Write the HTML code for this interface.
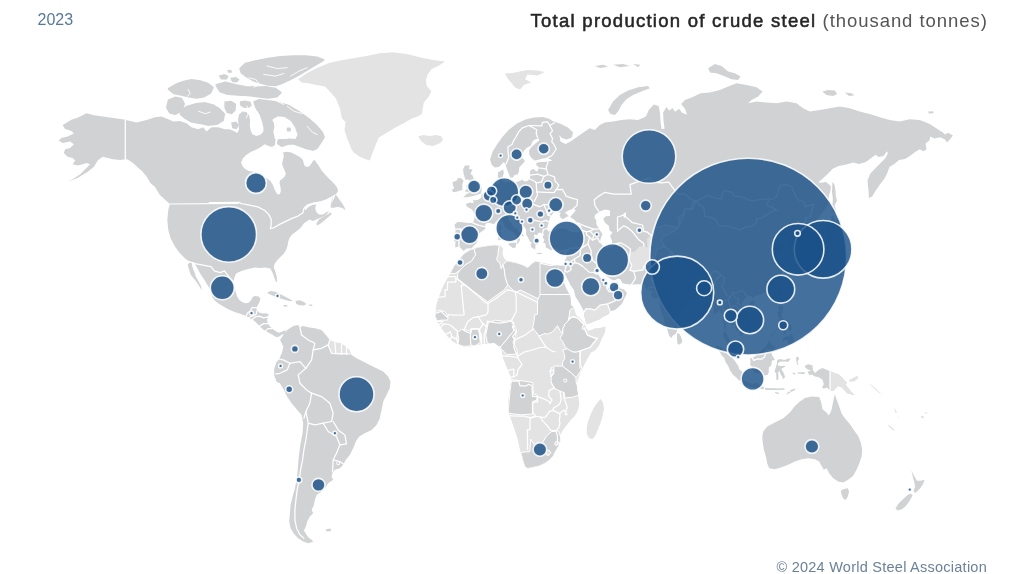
<!DOCTYPE html>
<html lang="en"><head><meta charset="utf-8"><title>Total production of crude steel</title>
<style>
html,body{margin:0;padding:0;background:#fff;}
body{width:1024px;height:574px;position:relative;overflow:hidden;font-family:"Liberation Sans",sans-serif;}
#year{position:absolute;left:37.5px;top:9.5px;font-size:16px;line-height:20px;color:#58799a;}
#title{position:absolute;right:36.2px;top:9.3px;font-size:18.5px;line-height:24px;color:#555;white-space:nowrap;letter-spacing:0.95px;}
#title b{color:#262626;font-weight:normal;-webkit-text-stroke:0.55px #262626;letter-spacing:1.26px;}
#credit{position:absolute;right:37px;top:557.5px;font-size:14.5px;line-height:18px;color:#6b8299;white-space:nowrap;letter-spacing:0.25px;}
svg{position:absolute;left:0;top:0;}
#wrap{position:absolute;left:0;top:0;width:1024px;height:574px;filter:blur(0.55px);}
</style></head><body><div id="wrap">
<svg width="1024" height="574" viewBox="0 0 1024 574">
<g id="land" stroke-linejoin="round">
<polygon points="125.3,119.8 115.3,118.3 102.7,116.5 94,115.3 86.4,113.3 82.7,115.3 77.6,117.8 71.4,119.8 66.4,122.8 62.6,125.3 65.1,129.1 71.4,130.9 73.9,133.4 67.6,136.6 61.3,137.9 58.8,140.4 62.6,142.9 70.1,141.6 73.9,144.2 70.1,147.9 65.1,149.2 63.8,152.9 67.6,156.7 72.6,158 75.1,160.5 72.6,164.2 77.6,165.5 82.7,164.2 86.4,163 90.2,164.2 85.2,169.3 80.2,174.3 72.6,179.3 67.6,181.8 77.6,178 87.7,171.8 94,166.7 97.7,160.5 102.7,156.7 107.8,158 112.8,159.2 120.3,160 125.3,159.2 131.6,163 136.6,166.7 141.6,170.5 146.7,176.8 150.4,183.1 154.9,186.7 159.9,195 165.9,200.6 169.9,204 168.3,210 167.3,220 168.3,230 170.6,238.3 174.9,246.6 179.9,253.3 185.9,259.3 189.9,261.9 187.6,265.1 189.2,270.1 190.9,275.1 194.3,279.3 197.6,283.5 200.1,287.6 201.8,290.2 201,286 198.4,281 195.9,276.8 194.3,271.8 192.6,267.6 191.8,263.4 193.4,262 195.1,264.2 197.6,268.4 200.1,273.4 203.5,278.4 206,282.6 208.1,286 210.2,289.3 211,293.5 212.7,297.7 215.2,301 218.5,303.5 222.7,306.1 226.9,308.6 231.1,310.6 235.3,312.2 239.4,313.6 243.6,314.9 246.1,316.1 248.6,317.8 252,319.4 254.5,321.1 257,323.6 259.5,326.1 262,328.6 265.4,331.1 268.7,332.8 272.1,334.5 274.6,336.2 277.1,337.3 279.6,336.2 282.1,334.5 285.5,333.7 285.5,330 281.3,332 278.8,332.8 275.4,331.1 272.1,328.6 269.6,326.1 267.9,323.6 267,320.3 267.9,316.9 268.7,314.4 266.2,313.2 262.9,313.6 259.5,312.7 257,310.2 256.2,307.7 257.8,305.2 259.5,301.9 260.4,298.5 258.7,296.5 255.3,296 252.8,296.8 251.1,300.2 248.6,302.7 245.3,303.2 241.9,301.9 238.9,299.4 236.9,296 235.6,291.8 234.4,286.8 233.6,281.8 234.4,277.6 236.1,273.4 240.3,271.4 245.3,269.7 250.3,268.4 255.3,267.6 260.4,268.1 265.4,267.6 270.4,268.4 272.9,273.4 274.6,278.4 276.2,282.6 277.1,281 276.7,276.8 275.4,271.8 273.7,267.6 274.6,263.8 277.1,260.4 280.4,257.1 283.8,253.7 286.3,249.5 287.6,245.4 288.3,241.2 289.6,237.8 292.1,234.5 295.5,232 298.8,229.5 301.3,227 303.8,223.6 307.2,221.1 309.7,219.4 313,221.1 316.4,219.4 320.6,217.8 324.8,216.1 327.3,213.6 331.5,208.6 333.1,196.1 336.8,193.2 338.1,191.1 337.3,187.7 334.8,184.4 331.5,181 328.1,177.7 324.8,174.3 321.4,170.2 318.9,166 316.4,162.6 314.7,160.1 313,161 311.4,163.5 309.7,166 307.2,167.1 304.7,166 303.8,163.5 303,160.1 300.5,157.6 296.3,155.1 291.3,152.6 286.3,151.8 282.9,152.6 271.2,146.7 271.2,146.7 273.8,140.9 274.3,136 273.3,132.1 274.3,127.2 273.8,122.3 270.9,119.4 266,119.4 263.6,122.3 264.1,127.2 263.1,132.1 260,135 256.1,136 252.1,134.1 250.7,130.2 249.7,125.3 250.2,120.4 249.2,115.5 246.3,112.1 242.4,111.6 239,114.5 238,119.4 238.5,124.3 239,129.2 237.5,133.1 234.6,131.6 229.7,129.2 224.8,129.2 218.2,127.2 211.5,127.2 206.5,131.6 203.2,127.2 198.2,129.2 191.5,127.2 186.5,123.3 179.9,120.9 173.2,121.6 168.2,119.3 161.5,116.6 154.9,117.3 146.6,119.9 136.6,122.6 125.9,119.9" fill="#d1d2d4"/>
<polygon points="335.6,194.4 334,198.6 331.8,203.6 330.8,207 333.1,208.1 336.5,207 339.8,207.3 343.2,208.6 345.2,210.6 344.5,207.3 342.3,203.6 339.8,200.3 337.8,196.9" fill="#d1d2d4"/>
<polygon points="316.4,223.7 318.9,219.5 323.1,217 327.3,214.5 331.1,212.3 331.5,214.5 328.1,217.3 324.4,220.4 320.6,223.4 317.2,225.4" fill="#d1d2d4"/>
<polygon points="267,292.7 270.4,291 275.4,291.8 280.4,294.3 285.5,296.8 290.5,299.4 293,301 289.6,301 285.5,299.9 280.4,298.5 275.4,296.5 270.4,294.8" fill="#d1d2d4"/>
<polygon points="295.5,301 299.7,300.2 303.9,301.9 306.4,303.9 303.9,305.5 299.7,305.2 296.3,303.9" fill="#d1d2d4"/>
<polygon points="283.4,304.9 287.1,304.9 287.5,306.6 283.8,306.6" fill="#d1d2d4"/>
<polygon points="309.2,304.5 312.2,304.5 312.2,305.9 309.2,305.9" fill="#d1d2d4"/>
<polygon points="283.3,335 287.2,330 293.2,326 298.2,325 299.9,327.3 303.2,326 308.2,327.3 314.9,328.3 321.5,330 325.9,335 329.9,340 334.9,342.6 339.9,343.3 344.9,345.9 349.2,349.9 351.5,354.9 356.5,358.3 363.2,361.6 369.8,364.9 376.5,368.3 383.2,371.6 388.1,376.6 390.5,381.6 389.8,388.2 386.5,394.9 383.2,401.6 381.5,409.9 379.8,418.2 376.5,424.9 371.5,429.9 364.8,433.2 359.2,436.5 355.8,441.5 353.2,448.2 349.9,454.8 345.9,459.8 343.2,464.8 339.9,468.2 334.9,469.8 332.5,472.5 331.5,476.5 333.2,479.8 328.2,483.2 325.9,487.2 321.5,491.6 316.6,494.9 314.9,499.9 313.9,504.9 311.6,509.9 313.2,513.2 309.9,516.5 307.2,521.5 305.9,526.5 303.9,530.5 305.9,533.8 308.2,537.2 311.6,539.8 313.2,541.8 308.2,543.2 303.2,541.5 298.2,538.2 293.9,533.8 290.6,528.2 289.2,521.5 289.9,513.2 290.6,504.9 292.6,496.6 294.9,488.2 296.6,479.9 297.6,471.6 298.2,463.3 299.2,453.3 300.6,443.3 302.6,433.3 303.2,423.3 301.6,415 296.6,409.3 291.6,403.3 287.2,396.7 283.9,390 279.9,383.3 276.7,381.9 274.2,375.2 274.2,368.5 276.7,361.8 278.4,360.2 281.7,353.5 283.4,346.8 280.1,340.1" fill="#d1d2d4"/>
<polygon points="325.9,529.2 330.5,528.5 331.2,530.9 326.5,531.5" fill="#d1d2d4"/>
<polygon points="463.5,250.9 461.8,248.9 459,246.6 455.2,247.4 455.5,241.7 453.8,240.6 455.5,234.1 455.5,229.2 454.5,224.6 457.5,222 463,222.3 468,223.1 473,223.1 474.5,218.9 474.8,214 472,209.4 466.8,206.4 465.8,204.1 470,202.6 473.5,203.3 473.2,199.5 474.5,200.3 478,199.9 481.2,197.6 481.5,194.6 485.5,193.1 487.5,190.4 489.2,187 491.2,185.1 495,184.7 498.8,184.3 499.5,182.1 499,179 497.8,176.8 498,172.2 501.2,170.7 503.8,168.8 498.8,166.9 495,167.6 491.8,165 490.2,160 490.2,158.9 492.7,151.4 497.3,143.9 502.8,136.4 509.1,129.6 516.6,123.8 525.4,119.5 534.2,117.5 542.9,117 549.2,118.8 553,121.3 560.5,123.8 568,127.6 573.1,132.6 571.8,137.6 566.8,139.6 561.8,138.1 559.3,135.1 560.5,141.4 565.5,143.9 570.5,141.4 584.8,131.6 589.8,128.3 594.8,129.9 599.8,124.9 604.8,122.6 613.1,121.6 621.5,119.9 629.8,119.3 638.1,119.9 645.9,116.6 648.9,109.8 653.8,104.5 658.6,105.9 660,112.7 660.6,122.5 661.6,129.3 664.5,128.4 663.5,120.5 663.1,112.7 666.4,106.9 669.4,110.8 672.3,107.9 675.2,111.8 679.1,108.8 682.1,112.7 687,114.7 685,108.8 681.1,103.9 685,100 692.8,97.1 700.6,93.2 709.9,92.6 719.9,90 728.2,86.6 736.5,83.3 746.5,85 756.5,87.3 762.5,91.6 758.2,96.6 751.5,99.9 748.2,103.3 756.5,101.6 766.5,102.6 776.5,103.3 786.5,101.6 796.5,103.3 803.1,108.3 809.8,111.6 819.8,109.9 829.8,108.3 839.8,106.6 849.8,108.3 859.7,111.6 869.7,113.9 879.7,117.3 889.7,119.9 899.7,121.6 909.7,119.3 919.7,119.9 929.7,123.9 936.3,128.2 941,131.6 942.1,131.7 945,134.6 948,132.7 952.9,135.6 949.9,139.5 947,142.5 945,139.5 940.2,137.2 934.3,138.6 930.4,136.6 929.4,140.5 925.5,143.4 926.5,149.3 923.6,151.2 919.6,149.3 914.8,152.2 909.9,156.1 905,159.1 899.1,160 894.3,163.9 889.4,166.9 887,173.7 884.5,178.6 880.6,183.5 876.1,189.9 872.2,196.6 868.9,198.1 868.5,190.3 867.5,180.5 870.2,173.7 875.7,167.9 880.6,163 885.5,158.1 887.8,153.2 887,151.2 883.5,156.1 878.6,157.1 875.7,154.8 871.8,157.5 865.9,162 859.1,163.9 853.2,162.6 846.4,164.5 838.6,165.9 832.7,168.8 827.9,173.7 823.9,177.6 820,180.9 818.1,182.5 821.2,182.8 826.2,182.1 830.8,185.9 830.5,190.4 828.8,196.1 828.2,203.7 823,212.1 816.2,220.8 810,225.4 804.2,227.3 801.2,232.2 796.2,236.8 798.5,241.7 801,247.4 801,252.4 798.8,254.6 793.8,255.8 793.2,250.9 794,245.5 790,243.6 790.8,237.9 788.2,236 782.5,234.1 780.5,239.8 781.2,234.9 780,233 775,239 771.8,241.3 774.8,245.5 779.2,244.4 783.8,246.6 780,249.3 775.8,254 778.8,258.7 782,264 782.2,267.1 779.5,268.6 782.5,270.2 781.2,274.9 778.8,278.9 776.5,283.6 773,286.7 770,289.8 766.2,292.3 762.5,293.6 758.8,295.1 753.8,296.7 753,299.8 751.8,296.1 748,295.8 744.2,299.2 741.8,303.9 743.8,308.5 748,313.2 750.5,321 750.5,326.6 745.8,330.7 744.2,333.5 740,336.3 739.5,331.9 736.2,330.1 734,325.7 729.8,323.5 728.8,321 727.5,321.6 727,327.3 725.5,331.9 727,334.4 728.5,338.2 730,341.9 733,343.8 736,349.1 736.2,354.4 738,358.8 736.2,359.1 733,356.3 730.8,354.1 729,350.6 728.2,345 726.8,341.9 724.2,338.2 723.2,335.1 724,330.4 724,325.7 723,319.5 721.8,314.8 721.2,311.7 719.5,310.1 716,313.8 713.2,313.2 713.8,308.5 713,304.5 711.2,301.4 709.5,299.2 708,296.7 707,293.6 703.8,293 700,295.1 697.5,295.5 695,296.4 694.5,299.2 692,301.4 689.5,303.9 686.2,307 683.2,310.1 680.5,312.6 678.2,314.8 677.8,319.5 678.2,322.6 677,327.3 677,331 675.5,334.1 673,335.4 671.2,337.9 669,335.4 668,331.9 666.8,327.3 664.8,323.2 663.8,317.9 662,313.8 660.8,310.1 659.5,303.9 659.2,299.2 659,296.1 658,297.6 655.8,298.3 653.2,297.9 650.5,294.5 653.2,291.7 649.8,290.8 646.2,288.6 644.2,284.5 638.8,284.2 632.5,284.5 627.5,284.2 622.5,283.3 620.5,279.5 618.2,278.6 614.5,280.2 611.2,279.5 608.8,277.4 606.2,276.1 604.2,272.4 602.5,268.9 599.8,268.6 597.5,269.6 597.2,271.4 598.8,274.2 599.5,276.7 602.5,279.5 603,283 604.5,285.8 605.8,282 606.5,285.2 606.5,287.7 610,287.7 613,287.7 615.8,284.2 617.8,281.7 618.5,285.5 620.5,288.6 624,289.5 627,293 624,299.5 621.8,303.9 618.2,307.3 615,310.1 610.2,311.4 608,314.5 603,316.7 599.2,319.5 594.2,321.3 590,323.2 586.2,323.5 585.8,321.6 584.5,316.7 584.2,312 580.5,304.8 577.5,299.8 575.5,296.7 573.8,289.8 570.5,285.2 569,282 565.5,275.5 564.8,271.1 563.2,275.8 561.5,275.2 559,269.6 558.2,265.8 563,265.5 565,260.8 567,255.5 567.2,251.5 568,248.9 565.8,248.9 562.5,249.9 558.8,250.5 554,248.2 551.2,250.2 548,248.5 545.8,247.4 545.5,243.6 543.2,242.5 544.5,239.8 543,237.9 543,236 544.2,234.1 542.5,233.3 538.8,232.6 537,235.2 535.8,235.2 534.8,234.1 534,236 535,238.7 535.8,239.8 534.8,240.6 537.5,242.8 537.5,244.7 535.5,244 535.5,246.3 535.2,249.3 533.8,249.3 533,247.8 531.8,248.2 530.5,244.4 532,242.5 530.2,242.1 529.2,240.2 528,237.5 526,234.5 526.2,230.3 525.5,228.4 523.8,226.5 521.2,224.6 517.5,222.7 515.5,220.1 513.8,216.3 511.8,214.7 511.5,216.6 508.5,215.5 508.2,219.7 511.5,222.7 513,226.9 517.5,228.8 517.5,230.7 522.5,233.7 523.8,235.6 523.2,236.8 520,234.1 518.8,237.1 520.2,239.8 518.8,242.1 517.5,244 516.8,243.2 517.5,239.8 516.5,236 514.5,233.7 512,231.4 508.2,229.5 505,226.9 503.8,224.6 503,221.2 499.5,219.3 496.2,221.6 494,224.2 490,223.1 487.5,222.7 485.2,224.2 485.5,228.8 482.5,231.1 479.5,233 476.8,237.9 478,240.6 475.8,244 473,246.6 471.8,248.2 466.5,248.5" fill="#d1d2d4"/>
<polygon points="505,178.3 509,178.3 509,174.9 505.5,175.6" fill="#d1d2d4"/>
<polygon points="502,178.7 504.5,178.7 504.2,176.8 502.2,177.1" fill="#d1d2d4"/>
<polygon points="523,171.4 524.8,169.9 525,168 523.5,169.2" fill="#d1d2d4"/>
<polygon points="463.2,197.6 468.8,196.9 475,195.4 481,193.5 481.8,187.8 478.2,186.6 477,182.8 473.8,179 472.5,175.2 470.5,174.1 472.5,169.5 468.8,168.8 469.8,165.4 465,165.4 463,169.5 463.5,173.3 464.5,177.1 465.5,179.8 469,179.4 470,183.6 469.5,185.5 466.2,185.5 467,188.5 464.8,191.2 468.8,192.3 470,193.1 466.8,193.8" fill="#d1d2d4"/>
<polygon points="462.5,189.7 462.2,184.7 463.5,180.6 461.2,178.3 458,177.9 456.2,180.9 452.5,182.1 453,185.5 454.2,187.8 451.8,190.4 453.5,192.3 457.5,191.6" fill="#d1d2d4"/>
<polygon points="508.5,243.6 511.2,242.8 516.5,242.8 515.5,247.4 513.2,248.2 508.8,245.1" fill="#d1d2d4"/>
<polygon points="498,239.8 498.5,232.2 501.2,231.4 501.8,238.7 500,240.2" fill="#d1d2d4"/>
<polygon points="499,230.3 499.2,226.1 501,224.6 501.2,229.9" fill="#d1d2d4"/>
<polygon points="536.2,253 538.8,252.7 543.2,253.4 540,254.3 536.5,253.4" fill="#d1d2d4"/>
<polygon points="558.2,254.6 560,253 563.8,252.1 562.5,254 560,255.2" fill="#d1d2d4"/>
<polygon points="594.8,66 603.1,64.7 608.1,66.7 599.8,68" fill="#d1d2d4"/>
<polygon points="613.1,64.7 623.1,64 629.8,66 619.8,67.3" fill="#d1d2d4"/>
<polygon points="633.1,64 640.4,64.7 638.1,67.3" fill="#d1d2d4"/>
<polygon points="608.1,110 613.1,101.6 619.8,95 628.1,90.6 638.1,87.3 648.1,86 649.8,88.3 641.4,91.6 633.1,95 626.4,99.3 621.5,105 618.1,111.6 614.8,114.9 610.5,113.9" fill="#d1d2d4"/>
<polygon points="708.2,68.3 714.9,64 721.5,66 728.2,71.6 734.9,73.3 740.5,76.6 738.2,80 731.5,79.3 723.9,76 716.6,73.3 709.9,72.6" fill="#d1d2d4"/>
<polygon points="822.4,91.6 828.1,90 834.8,90.6 837.1,93.9 833.1,95.9 826.4,94.9" fill="#d1d2d4"/>
<polygon points="844.8,92.6 851.4,93.3 854.8,95.3 849.1,95.9" fill="#d1d2d4"/>
<polygon points="928,111.6 933,111.3 933.7,113.3 929,113.6" fill="#d1d2d4"/>
<polygon points="832.5,181.7 834.5,184.7 835.5,190.4 835.8,196.1 837,200.7 834.5,205.6 836.2,210.2 836,212.5 834,210.9 832.8,213.2 832.2,209.4 832.5,203.7 832.8,198 832,192.3 832.2,186.6" fill="#d1d2d4"/>
<polygon points="804.8,257.1 807.5,256.2 810,256.2 813.8,254.9 815.8,255.2 815.2,257.4 817,258.7 819.5,255.8 820.5,255.2 823,255.2 824.5,254.9 825,253.7 827,254 827.5,253.4 829.5,251.8 829,249.3 830,245.5 831.2,242.5 832.2,237.9 832,234.9 831,230.7 828.2,231.4 827.5,236 827,239.8 826,242.8 823.8,246.3 820.8,248.2 820.5,245.5 819.2,247 817.5,250.9 817,252.1 815,251.8 810.5,252.1 808.8,253 806.2,255.2 804.8,256.2" fill="#d1d2d4"/>
<polygon points="827.8,230.3 829.8,229.2 830.5,226.9 835.5,228.4 838.8,224.6 841.2,223.5 840.5,220.1 835,219.7 832.2,215.1 831.5,217 831.5,221.2 830.5,223.9 828.5,223.5 828.2,226.1 827,226.9" fill="#d1d2d4"/>
<polygon points="804.8,257.4 806.8,258.3 807.2,260.8 805.8,265.2 804.2,266.1 803,265.5 803.2,261.8 801.8,260.2 802,258.7 803.5,258.3" fill="#d1d2d4"/>
<polygon points="808.8,257.1 812,256.2 814,256.8 813.2,258.3 810.5,259.6 809.2,260.8 808.5,259" fill="#d1d2d4"/>
<polygon points="781.2,284.2 782.5,285.2 781.5,288.3 780,292.3 779.2,294.5 778,292 777.8,289.5 779.5,286.1" fill="#d1d2d4"/>
<polygon points="749.2,302.9 751.2,300.8 754,300.4 755,302 753.8,304.5 751.5,306.4 749.2,305.4" fill="#d1d2d4"/>
<polygon points="677.2,332.9 679.5,334.1 680.8,336.6 682.2,340.4 681.8,342.8 679,344.7 677.5,343.8 677,339.7 677,336.6" fill="#d1d2d4"/>
<polygon points="779,305.4 783,305.7 783.2,310.1 781.5,313.8 782,318.5 784.5,319.5 787.5,320.1 787.8,323.8 785.8,322 783.8,321 781.8,320.1 779.5,320.1 779,317.6 777.8,316.3 777,312.6 778.5,311.4 778.5,308.2" fill="#d1d2d4"/>
<polygon points="782.5,341.3 783,338.5 786,336.3 789.2,336.3 791.2,332.9 793.2,336.3 793.8,340.7 792.8,343.2 791,343.8 791,345.7 788.2,343.8 787.5,340.4 785.5,339.7 782.8,341.6" fill="#d1d2d4"/>
<polygon points="788.2,324.1 791.2,325.1 791.8,328.8 790.5,331.3 789.5,331.3 788.5,327.9" fill="#d1d2d4"/>
<polygon points="782.5,326.3 785.5,327.3 786.2,330.4 785.2,334.7 783.8,333.5 782.5,330.4" fill="#d1d2d4"/>
<polygon points="770.5,336.9 776.2,330.4 776.8,327.9 775,331 771.2,335.1" fill="#d1d2d4"/>
<polygon points="778.8,321.3 781.2,321.6 781,324.8 779.8,323.8" fill="#d1d2d4"/>
<polygon points="750,358.4 751.5,356.9 753.2,357.8 755.8,355.6 758,353.8 761.2,351 763,348.8 766.2,346.6 768,342.8 769.5,341.3 771.2,342.8 772,345 775.5,346.9 773.8,349.1 772,350 771.5,353.1 772.5,355.9 775,360 772,360.6 771.2,365.5 768.8,367.6 768.8,372.1 767.5,374.9 764.2,375.5 763.2,373.3 760,372.7 757,373.6 753.2,371.8 752.5,367.6 750,364.5 750.5,361.5" fill="#d1d2d4"/>
<polygon points="715.8,345.7 721.2,346.9 723.2,350 727,353.8 729.5,356.3 732,357.8 735,360.9 737,363.9 738.5,366.4 739,369.1 742.5,372.1 742,375.8 742,380.6 739,380.6 736.2,377.6 733.2,374.9 730,370.6 728.2,366.1 725.5,362.1 724.2,357.8 721.8,355.6 719.8,351.9 716.2,348.2" fill="#d1d2d4"/>
<polygon points="740.5,383.6 742.8,380.9 745,380.9 748.2,382.1 749.8,383.6 753.8,383.9 755,382.4 758.8,383.9 760,386.1 763.8,386.7 763.5,389.4 760,388.5 756.2,388.2 752.5,387.3 748.8,386.7 746.2,386.4 743.5,385.5 741,383.9" fill="#d1d2d4"/>
<polygon points="765,387.9 769.2,388.2 775,388.2 777.5,388.5 784.5,388.2 784.5,389.7 777.5,390 772.5,390 767.5,390 765,389.4" fill="#d1d2d4"/>
<polygon points="786.2,394.2 790,390.3 795,388.5 795.5,389.4 791.2,392.1 787.5,394.2" fill="#d1d2d4"/>
<polygon points="775,391.8 779.5,393 778,394.2 775,392.7" fill="#d1d2d4"/>
<polygon points="777,360.6 779.5,359.1 784.5,360 788.8,358.4 790.5,358.4 788.5,361.8 785,361.5 780.8,361.5 778.2,363 777.8,365.5 780.8,366.1 784.5,365.8 785.8,366.1 782.5,368.2 781.2,369.1 783.2,372.1 784.5,375.2 785,376.7 783.8,379.4 782.5,377.6 781.5,375.8 780,373 780,371.2 778.2,372.1 778.5,377.3 778.2,379.7 776.2,379.7 776.2,373.6 774.5,371.5 775.8,367.6 777,363.3" fill="#d1d2d4"/>
<polygon points="796.2,357.2 797.5,356.6 799.2,358.4 797.5,361.5 798.5,365.5 797,363.9 796.2,360" fill="#d1d2d4"/>
<polygon points="797.2,372.4 804.5,372.1 804.5,374.2 797.5,373.6" fill="#d1d2d4"/>
<polygon points="792.5,372.7 795.5,373 795,374.5 792.8,373.9" fill="#d1d2d4"/>
<polygon points="805,365.5 808.5,364.2 812.5,365.5 813,370.3 815,373 818.8,369.7 822.5,367.9 827,370 830,370.9 835,373.3 838.8,374.5 842,377.6 844.5,380.6 847,382.7 845.5,384.2 847.5,387.3 851.2,391.8 854.5,394.9 852,394.6 847.5,393.6 844.5,390.3 841.2,387 838,386.1 835.5,388.5 833,390.9 830,390.6 827,387.6 824.2,388.5 822,387.9 823.8,383.9 822.5,379.7 818.8,377.3 815,376.4 811.8,374.5 809.5,375.2 807.5,371.8 811.2,370.3 808,369.7 805,367.3" fill="#d1d2d4"/>
<polygon points="763.3,431.5 767.2,426.5 774.9,422.5 783.2,418.2 789.9,412.6 794.9,405.9 799.9,401.6 804.9,397.9 811.5,396.6 819.2,396.9 821.2,402.6 822.5,409.2 826.5,412.6 828.9,415.6 831.5,409.9 833.2,401.6 834.8,394.2 836.8,399.9 839.2,406.6 841.5,413.2 844.8,418.2 849.8,423.9 853.8,429.9 858.2,435.9 860.8,442.5 862.2,449.9 861.5,456.5 859.2,463.8 856.5,469.8 853.2,475.8 848.2,479.8 843.2,482.5 838.2,481.5 833.2,478.2 829.2,473.2 826.5,468.2 823.9,469.8 821.5,465.8 819.2,461.5 814.9,459.2 808.2,458.2 801.5,459.2 794.9,461.5 788.2,464.8 781.6,467.2 774.9,469.2 769.2,468.2 767.2,463.2 765.9,456.5 763.9,449.9 762.6,441.5 762.3,435.9" fill="#d1d2d4"/>
<polygon points="840.8,490.4 844.1,489.1 847.8,488.3 849.1,491.6 847.8,496.6 845.8,499.9 843.3,498.4 841.6,494.9" fill="#d1d2d4"/>
<polygon points="911.3,470.3 913.1,474 915.1,477.8 916.9,480.8 920.6,480.8 924.4,479.8 923.1,484.1 920.6,487.8 917.6,490.9 915.1,492.9 913.6,490.9 915.1,486.6 914.4,482.8 913.1,477.8" fill="#d1d2d4"/>
<polygon points="910.6,493.4 912.6,495.4 910.6,499.1 908.1,502.9 905.1,506.7 901.8,509.2 897.5,510.4 895.5,508.4 897.5,504.9 900.5,501.6 904.3,497.9 907.6,494.9" fill="#d1d2d4"/>
<polygon points="168.8,100.2 175.1,97.7 181.4,98.9 183.9,104 181.4,110.2 175.1,114 170.1,112.7 167.1,107.7" fill="#d1d2d4" stroke="#d1d2d4" stroke-width="2.2"/>
<polygon points="181.4,110.2 187.6,106.5 196.4,104 205.2,103.2 212.7,105.2 219,109 224,114 222.8,120.3 216.5,124 207.7,124.8 198.9,122.8 191.4,121.5 185.1,117.8 180.6,114" fill="#d1d2d4" stroke="#d1d2d4" stroke-width="2.2"/>
<polygon points="168.8,88.9 175.1,85.1 182.6,82.1 191.4,80.1 200.2,81.4 207.7,83.9 212.7,87.6 210.2,92.7 204,96.4 196.4,97.7 188.9,96.4 181.4,94.7 173.8,93.2" fill="#d1d2d4" stroke="#d1d2d4" stroke-width="2.2"/>
<polygon points="216.5,85.1 225.3,82.6 235.3,85.1 245.4,87.1 255.4,87.6 265.5,87.1 275.5,88.9 280.5,92.7 276.7,96.4 268,97.7 257.9,96.4 247.9,95.2 237.8,94.7 227.8,93.9 220.3,91.4" fill="#d1d2d4" stroke="#d1d2d4" stroke-width="2.2"/>
<polygon points="240.4,68.8 245.4,63.8 255.4,61.3 268,58.8 280.5,57 293.1,56.3 305.6,56.3 316.9,57.5 323.2,60 316.9,63.8 310.6,67.6 304.4,71.3 298.1,75.1 290.5,78.9 283,82.6 275.5,85.1 268,84.6 260.4,82.6 252.9,80.1 246.6,76.4 241.6,72.6" fill="#d1d2d4" stroke="#d1d2d4" stroke-width="2.2"/>
<polygon points="259.3,100 274.9,102 288.6,105.9 298.4,111.7 308.1,118.6 315.9,125.4 321.8,132.2 323.8,137.1 320.8,142 316.9,147.9 313,149.8 307.1,148.4 300.3,145.9 293.5,143.4 287.6,143.9 281.8,145.9 277.9,143.4 278.8,140 285.7,140.2 288.6,139.5 296,140.2 298.8,134.8 296,127 291.7,120.3 285.1,116 277.5,115.2 271.8,118.6 270,125.4 270.6,132.2 273.4,137.1 271,138.7 268.1,135.2 264.8,129.3 263.2,121.5 260.3,113.7 256.4,107.8 254.4,102" fill="#d1d2d4" stroke="#d1d2d4" stroke-width="2.2"/>
<polygon points="259.3,136.7 268.1,135.7 274.5,139.5 273.8,144.9 267.1,146.5 261.2,144.1 258.3,140.2" fill="#d1d2d4" stroke="#d1d2d4" stroke-width="2.2"/>
<polygon points="287.8,128.5 289.8,128.5 289.8,130.5 287.8,130.5" fill="#d1d2d4" stroke="#d1d2d4" stroke-width="2.2"/>
<polygon points="239.9,101.3 245.3,100.4 250.7,101.8 251.7,105.7 248.2,108.2 243.4,107.7 239.9,105.3" fill="#d1d2d4"/>
<polygon points="218.6,75.7 224.4,74.1 228.6,76.1 226.9,79.4 221.1,79.4" fill="#d1d2d4"/>
<polygon points="230.3,77.8 236.1,76.9 239.5,79.4 237,82.4 231.9,81.9" fill="#d1d2d4"/>
<polygon points="226.9,70.2 231.1,69.7 232.3,72.4 228.6,73.1" fill="#d1d2d4"/>
<polygon points="224.4,101.5 231.1,100.8 236.1,103.7 235.6,110.4 231.9,114.2 226.9,112.9 224.4,107.9" fill="#d1d2d4"/>
<polygon points="231.1,122.6 236.1,121.6 239,124.9 236.6,129.3 232.3,128.3" fill="#d1d2d4"/>
<polygon points="247,87.8 253.7,86.1 260.4,88.6 267.1,92 260.4,94.8 252.9,95.3 247.8,93.1" fill="#d1d2d4"/>
<g fill="none" stroke="#ffffff" stroke-width="0.9" stroke-linecap="round"><polyline points="253.7,87.5 259.1,83.8 255.7,79.4 249,77.8"/><polyline points="267.1,66 277.1,68.5 287.2,67.7"/><polyline points="263.7,74.4 275.5,76.1 283.8,73.6"/><polyline points="290.5,76.1 298.9,71.1 307.2,67.7"/><polyline points="188.4,89.5 190.1,93.6 187.6,96.2"/><polyline points="198.5,111.2 205.2,113.7 210.2,112.1"/><polyline points="247,106.2 248.7,112.9 246.2,117.9"/><polyline points="287.2,106.2 293.9,111.2 302.2,113.7"/><polyline points="277.1,101.2 283.8,104.5"/><polyline points="307.2,126.3 312.3,132.1 317.3,134.6"/></g>
<polygon points="298.2,79.3 306.6,73.3 316.6,68.3 328.2,63.3 339.9,60.6 353.2,58.3 366.5,56 379.8,53.3 393.1,52.3 406.5,54 419.8,57.3 433.1,60 445.1,61.5 439.4,65.3 431.4,69.3 427.8,74.3 425.8,80 426.8,86 431.4,91.6 428.8,96.6 423.8,102.6 422.8,108.3 421.8,114.3 415.8,117.3 412.1,118.3 404.1,122.9 394.5,127.9 386.5,132.9 378.8,137.6 375.8,144.6 372.8,152.2 369.8,160.5 365.5,159.2 359.2,156.6 353.5,152.2 351.5,149.2 347.5,139.6 344.5,129.9 345.5,121.9 341.9,118.3 339.9,108.3 335.9,98.6 329.9,91.6 324.9,86.6 316.6,85 308.2,83.3 301.6,82.6" fill="#e3e3e4"/>
<polygon points="418.1,136.6 423.1,134.9 429.8,135.9 436.4,134.9 441.4,136.6 443.1,139.9 439.8,143.2 433.1,145.9 426.4,144.9 421.5,141.6" fill="#e3e3e4"/>
<polygon points="329.2,340 334.9,342.6 339.9,343.3 344.9,345.9 349.2,349.9 349.9,353.9 339.9,354.9 331.5,353.3 328.2,345.9" fill="#e3e3e4"/>
<polygon points="450.1,273.6 453.9,266.1 458.9,259.8 463.9,253.6 470.2,249.8 477.7,247.3 485.3,246 494,244.8 500.3,245.5 502.8,248.5 502.3,253.6 504.1,258.6 507.8,261.1 515.4,262.4 522.9,264.9 527.9,267.4 531.7,263.6 535.5,261.1 541.7,262.4 548,264.1 555.5,265.6 561.8,264.9 556.2,264.9 558.2,265.8 558.8,269.6 559,271.1 561.2,275.8 562.5,278.9 563.8,282 565,285.8 566.8,289.8 569.5,294.5 570.5,297.6 570.8,302.3 571.2,305.4 573.8,307 575.5,313.2 576.8,315.7 580,317.9 583.5,322.6 585.5,324.1 585.8,326.9 587.5,330.4 590,330.4 595,328.2 600,327.9 605.5,326.3 605.2,330.4 604.5,333.5 602,338.2 598.8,346 595,350.6 591.1,352.5 587.5,358.8 583.5,366.3 580.5,372.6 578,378.9 576.7,385.1 577.5,391.4 578.5,397.7 579.3,404 578,410.2 575,415.8 570.5,420.3 566.7,425.3 562.9,430.3 559.9,435.3 560.4,440.9 558.4,446.6 555.4,451.6 552.9,456.7 549.1,460.4 544.9,463.4 539.1,466 532.8,467.5 527.8,468.5 524.8,466.7 522.8,460.4 520.8,452.9 519,445.4 517.3,437.8 514.8,430.3 512.2,422.8 509.7,415.3 508.2,409 508.2,401.5 509,393.9 510.2,386.4 511.5,378.9 509,372.6 505.7,365.1 502.7,357.5 501.5,350 504.1,351.5 500.8,348.9 497.8,345.2 494,342.7 489,343.4 482.7,343.9 476.5,345.2 470.2,346.4 463.9,346.4 457.6,344.4 452.1,340.9 447.6,336.4 443.8,331.4 440.1,326.4 437.1,321.3 435.1,316.3 435.6,311.3 436.3,305 438.1,298.7 440.6,292.5 443.1,286.2 446.4,279.9" fill="#e3e3e4"/>
<polygon points="600.6,398.9 603.1,402.7 603.9,409 602.6,415.8 600.6,422.8 598.1,429.1 595.6,435.3 592.6,439.1 589.3,438.3 586.8,434.1 586.8,427.8 588,421.5 590.5,414.8 593.6,408.2 596.8,403.2" fill="#e3e3e4"/>
<polygon points="505,73.5 512.5,73 517.5,71.9 527.5,69.9 537.5,70.4 545,71.9 537.5,75.6 527.5,74.5 525,79.2 531.2,82.3 523.8,84.9 520,89.5 515,87.5 512,83.8 507.5,78.2" fill="#e3e3e4"/>
<polygon points="830,370.9 835,373.3 838.8,374.5 842,377.6 844.5,380.6 847,382.7 845.5,384.2 847.5,387.3 851.2,391.8 854.5,394.9 852,394.6 847.5,393.6 844.5,390.3 841.2,387 838,386.1 835.5,388.5 833,390.9 830,390.6" fill="#e3e3e4"/>
<polygon points="848.8,380 852.5,378.2 857.5,375.8 858.2,377.9 855,381.2 850,381.8" fill="#e3e3e4"/>
<polygon points="630.5,252.1 635,251.5 639.5,246.6 643.8,245.9 647.5,247.4 651.2,245.1 655,242.1 656.5,248.2 664.8,246.6 656.5,249.6 655.5,255.5 652.5,258.7 650.8,263.6 643.5,266.8 643.2,269.9 633.8,271.4 629.8,270.2 631.8,265.2 629,260.2 629.8,256.2" fill="#e3e3e4"/>
<polygon points="647.5,247.4 647,239 650.8,235.2 654,235.2 655,227.6 661.2,226.5 665,225 673.8,225 678,228 672.5,232.2 667.5,234.5 662,237.5 662,241.7 664.8,246.6 656.5,248.2 655,242.1 651.2,245.1" fill="#e3e3e4"/>
<polygon points="584.5,312 585.5,308.9 590.5,308.9 595,310.1 600,305.1 607.5,303.9 610.2,311.4 608,314.5 603,316.7 599.2,319.5 594.2,321.3 590,323.2 586.2,323.5 585.8,321.6 584.5,316.7" fill="#e3e3e4"/>
<polygon points="868.8,383.6 872.5,385.8 877.5,390.3 881.2,393.9 883,395.2 878.8,392.7 873.8,388.2" fill="#e3e3e4"/>
<polygon points="894,407.9 895.8,410 897,413.3 895.5,412.7" fill="#e3e3e4"/>
<polygon points="898,416.1 899,417 898.2,417.6" fill="#e3e3e4"/>
<polygon points="887.5,423.9 891.2,426.7 895,430.6 893,430.3 889,426.7" fill="#e3e3e4"/>
<polygon points="920.8,415.8 924,416.4 923.8,418.2 921,417.9" fill="#e3e3e4"/>
<polygon points="924.5,412.7 927.5,412.1 926.2,413.9" fill="#e3e3e4"/>
<clipPath id="afc"><polygon points="450.1,273.6 453.9,266.1 458.9,259.8 463.9,253.6 470.2,249.8 477.7,247.3 485.3,246 494,244.8 500.3,245.5 502.8,248.5 502.3,253.6 504.1,258.6 507.8,261.1 515.4,262.4 522.9,264.9 527.9,267.4 531.7,263.6 535.5,261.1 541.7,262.4 548,264.1 555.5,265.6 561.8,264.9 556.2,264.9 558.2,265.8 558.8,269.6 559,271.1 561.2,275.8 562.5,278.9 563.8,282 565,285.8 566.8,289.8 569.5,294.5 570.5,297.6 570.8,302.3 571.2,305.4 573.8,307 575.5,313.2 576.8,315.7 580,317.9 583.5,322.6 585.5,324.1 585.8,326.9 587.5,330.4 590,330.4 595,328.2 600,327.9 605.5,326.3 605.2,330.4 604.5,333.5 602,338.2 598.8,346 595,350.6 591.1,352.5 587.5,358.8 583.5,366.3 580.5,372.6 578,378.9 576.7,385.1 577.5,391.4 578.5,397.7 579.3,404 578,410.2 575,415.8 570.5,420.3 566.7,425.3 562.9,430.3 559.9,435.3 560.4,440.9 558.4,446.6 555.4,451.6 552.9,456.7 549.1,460.4 544.9,463.4 539.1,466 532.8,467.5 527.8,468.5 524.8,466.7 522.8,460.4 520.8,452.9 519,445.4 517.3,437.8 514.8,430.3 512.2,422.8 509.7,415.3 508.2,409 508.2,401.5 509,393.9 510.2,386.4 511.5,378.9 509,372.6 505.7,365.1 502.7,357.5 501.5,350 504.1,351.5 500.8,348.9 497.8,345.2 494,342.7 489,343.4 482.7,343.9 476.5,345.2 470.2,346.4 463.9,346.4 457.6,344.4 452.1,340.9 447.6,336.4 443.8,331.4 440.1,326.4 437.1,321.3 435.1,316.3 435.6,311.3 436.3,305 438.1,298.7 440.6,292.5 443.1,286.2 446.4,279.9" fill="#000"/></clipPath><g clip-path="url(#afc)">
<polygon points="450.1,273.6 453.9,266.1 458.9,259.8 463.9,253.6 470.2,249.8 474,248.5 475.7,254.8 471.5,261.1 465.2,264.9 460.2,269.9 455.1,273.6" fill="#d1d2d4" stroke="#ffffff" stroke-width="1"/>
<polygon points="474,248.5 477.7,247.3 485.3,246 494,244.8 500.3,245.5 499.8,252.3 501.6,259.8 504.1,268.6 505.3,277.4 507.8,284.9 504.1,290 495.3,296.2 487.8,301.8 482.7,298.2 470.2,288.7 457.6,278.7 457.6,273.6 460.2,269.9 465.2,264.9 471.5,261.1 475.7,254.8" fill="#d1d2d4" stroke="#ffffff" stroke-width="1"/>
<polygon points="504.1,258.6 507.8,261.1 515.4,262.4 522.9,264.9 527.9,267.4 531.7,263.6 535.5,261.1 541.7,262.4 542.5,268.6 542.5,295 540,296.2 538,298.7 520.4,290 515.4,292.5 507.8,284.9 505.3,277.4 504.1,268.6 501.6,259.8" fill="#d1d2d4" stroke="#ffffff" stroke-width="1"/>
<polygon points="488.3,322.6 495.3,320.1 502.8,321.3 510.4,320.8 514.1,325.1 513.4,331.4 509.1,336.4 505.3,341.4 500.8,346.4 495.3,347.7 490.3,343.9 487.3,342.7 485.8,335.1 487.3,327.6" fill="#d1d2d4" stroke="#ffffff" stroke-width="1"/>
<polygon points="471.5,329.4 478.2,328.9 479.7,335.1 480.2,342.7 475.7,345.4 470.9,345.9 470.2,336.4" fill="#d1d2d4" stroke="#ffffff" stroke-width="1"/>
<polygon points="457.6,332.6 461.4,329.4 467.7,330.1 470.9,331.4 470.2,336.4 470.9,345.9 463.9,346.4 457.6,344.4 458.9,338.9" fill="#d1d2d4" stroke="#ffffff" stroke-width="1"/>
<polygon points="514.1,325.1 516.6,330.1 515.4,336.4 512.9,342.7 516.6,348.9 517.9,354 506.6,354.5 504.1,351.5 500.8,348.9 500.8,346.4 505.3,341.4 509.1,336.4 513.4,331.4" fill="#d1d2d4" stroke="#ffffff" stroke-width="1"/>
<polygon points="435.6,311.3 440.1,310 445.1,311.8 448.1,316.3 447.6,320.1 441.3,320.1 437.1,321.3 435.1,316.3" fill="#d1d2d4" stroke="#ffffff" stroke-width="1"/>
<polygon points="511.5,379.6 526.5,381.4 532.8,382.6 533.3,393.9 537.3,395.2 536.6,400.2 532.8,401.5 532.8,414 520.3,414.8 508.2,413.2 509,401.5 510.2,390.2" fill="#d1d2d4" stroke="#ffffff" stroke-width="1"/>
<polygon points="520.8,452.4 529.8,451.6 530.8,439.1 535.3,446.6 541.6,444.1 546.6,435.8 551.6,431.6 558.4,430.8 560.4,436.6 560.4,440.9 558.4,446.6 555.4,451.6 552.9,456.7 549.1,460.4 544.9,463.4 539.1,466 532.8,467.5 527.8,468.5 524.8,466.7 522.8,460.4" fill="#d1d2d4" stroke="#ffffff" stroke-width="1"/>
<polygon points="540,263.3 540,294.5 571.2,294.5 570,288.3 566.2,277.4 565,270.8 563,265.5 558.2,264.6 550,265.5" fill="#d1d2d4" stroke="#ffffff" stroke-width="1"/>
<polygon points="540,294.5 537.5,300.8 537.5,314.2 534.8,314.8 533.8,322.6 532.5,328.8 536.2,331.9 538.8,336 545,333.5 547.5,334.1 552.5,331.9 557.5,325.7 560,330.4 562.5,333.5 562.8,328.8 565,324.1 568,321 568.8,318.5 570,310.1 574,307 575,300.8 572.5,294.5" fill="#d1d2d4" stroke="#ffffff" stroke-width="1"/>
<polygon points="568,321 572.2,316.7 577.5,317.9 583.5,324.1 582,328.8 585,329.8 587.5,335.1 595,338.2 597.5,338.2 590,347.5 582.5,350 580,351 576.2,352.2 572.5,351.9 567.5,349.4 565,346.3 562.5,341.3 560,338.2 562.8,333.5 562.8,328.8 565,324.1" fill="#d1d2d4" stroke="#ffffff" stroke-width="1"/>
<polygon points="562.5,350 567.2,348.8 572.5,351.9 576.2,352.2 580,351 580,363 581.8,368.2 580,372.1 576,377.6 571.8,373.6 562.5,366.1 562.5,362.4 565,358.4 563.8,352.2" fill="#d1d2d4" stroke="#ffffff" stroke-width="1"/>
<polygon points="562.5,366.1 571.8,373.6 576,377.6 576.2,382.7 577.5,385.8 577.5,390.3 579.5,394.9 572.5,397.3 565,397.9 563.8,392.4 560,391.2 555,388.8 551.2,382.7 551.2,376.7 553.8,373 553.8,366.1" fill="#d1d2d4" stroke="#ffffff" stroke-width="1"/>
<polygon points="545.5,452.7 546.8,450.6 549.2,450.3 550.8,452.7 549,455.2 546.8,455.2" fill="#e3e3e4" stroke="#ffffff" stroke-width="1"/>
<polygon points="555,442.4 556.8,441.5 557.8,443.3 556.8,445.5 555,444.9" fill="#e3e3e4" stroke="#ffffff" stroke-width="1"/>
<polygon points="499,246.3 502.5,245.1 505.8,246.6 504.5,249.9 505,252.4 503.2,256.2 505,258 506.5,259.9 506.2,261.8 503.2,264.3 501.2,268.9 500,263.3 498.2,261.8 496.5,259.3 498,254.9 498.2,250.9" fill="#e3e3e4" stroke="#ffffff" stroke-width="1"/>
</g>
<polygon points="241.1,162.6 242.8,158.4 246.1,155.1 251.1,151.8 257,149.2 261.2,146.7 264.5,144.2 268.7,145.9 272.9,147.6 277.1,149.2 280.9,150.4 283.3,153.1 283.8,156.8 282.6,161 282.1,164.3 283.3,167.6 284.9,171 285.9,173.8 284.6,176.8 282.1,178.9 279.9,180.5 279.6,183.5 280.6,187.7 280.9,191.1 279.9,193.9 277.9,194.6 275.9,192.2 274.2,188.6 272.6,184.4 270.4,181 267,178.5 264.5,176.8 261.2,173.8 257.8,172.2 252.8,171.8 248.6,171 244.8,168.8 242.4,166" fill="#ffffff"/>
<polygon points="336.8,193.9 333.1,196.3 331.5,201.9 330.4,207.3 333.1,208.6 331.5,210.3 326.4,212.3 323.1,214.5 318.9,214.5 316.4,212 315.1,208.3 316.4,204.5 312.2,205 308,207.3 305.5,210.3 304.3,209.6 307.2,205.6 311.7,203 316.4,201.9 321.4,200.9 326.4,199.3 331.5,196.6" fill="#ffffff"/>
<polygon points="503.2,169.2 503.8,173.3 502.5,177.1 502,179.8 504.5,182.8 507.5,182.1 511.2,181.3 513,183.2 517.5,181.7 522.5,179.8 524.2,181.3 527,181.3 530,179 530,175.2 530,171.4 531.8,169.2 534,169.2 536.2,171.4 538,170.7 538.5,166.9 536.2,165 536.2,163.1 540,161.9 545,161.9 548,161.6 552.5,160.4 550,159.3 547.5,158.1 542.5,158.5 537.5,160 534.5,160.4 531.2,157.8 529.2,154.3 529,150.5 531,147.5 534.8,144.1 538.5,141 539.5,139.5 538,138.8 534.8,139.5 532.2,141.8 531,145.6 526.5,147.9 523.5,151.3 522.2,156.2 522,158.1 524,159.3 524.8,161.6 522,164.6 519.2,167.6 519,171.4 517.5,174.5 514.5,174.9 513,177.5 510,177.5 509.2,174.5 507.5,170.7 505.8,165.7 505,163.8 503.8,161.9 502,163.8 498.8,166.9 499.2,168" fill="#ffffff"/>
<polygon points="547.5,231.1 547.5,226.5 549,222 549.8,217.8 552,214.7 554.5,210.9 558.2,212.1 560.8,212.8 559.5,215.5 561.2,218.5 563.8,218.9 566.2,217 568.8,216.3 565,212.5 568.8,210.2 573.8,208.7 575.8,210.2 572,215.1 570,217 573.8,219.3 577,222.7 581.2,225.8 581.5,229.9 578.2,232.2 573.8,232.2 570,231.4 565.5,228.4 561.2,228.4 557.5,229.5 553.8,231.4 550.5,231.4" fill="#ffffff"/>
<polygon points="595,215.1 600,211.3 605.5,209.4 610,210.6 610,215.9 605.8,216.3 603.2,218.9 605,222.7 608.8,225.8 609.5,230.3 612.5,232.6 610,236 612,240.6 612.2,246.3 607.5,248.2 603.2,246.3 600,242.5 600.8,237.9 602.5,234.5 600,230.3 596.5,224.6 596.2,220.1 594.5,217.8" fill="#ffffff"/>
<polygon points="623.2,214 626.2,212.1 625.8,216.3 624,218.5" fill="#ffffff"/>
</g>
<g id="borders" fill="none" stroke="#ffffff" stroke-width="1.25" stroke-linejoin="round" stroke-linecap="round">
<polyline points="125.3,119.8 125.3,159.2 129.1,161 134.1,164.7 139.1,170.5 144.2,176 147.9,181.1"/>
<polyline points="209.3,202.7 216,202.7 239.4,202.4 241.1,203.5 249.5,205.2 257.8,206.9 264.5,210.2 268.7,214.4 271.2,219.4 271.2,224.4 270.4,228.6 273.7,227.8 279.6,224.4 286.3,221.1 291.3,218.6 298,216.1 303,212.7 303.8,208.5 307.2,205.2 312.2,203.5 316.4,202.7 318.9,205.2 318.4,209.4 319.7,212.7"/>
<polyline points="169.9,204 238.2,203.3"/>
<polyline points="186.7,260.9 195.1,263.7 204.3,265.4 211,266.7 214.3,270.9 220.2,272.6 224.4,270.9 227.7,275.1 231.1,279.3 234.1,281.8"/>
<polyline points="246.1,316.1 247.8,312.7 250.3,311.1 252,307.7 256.2,307.7"/>
<polyline points="248.6,317.8 252,316.1 256.2,314.4 257,310.6"/>
<polyline points="252,319.4 255.3,316.9 259.5,316.1 263.7,317.8 267.9,316.9"/>
<polyline points="259.5,326.1 263.7,323.6 267.9,323.6"/>
<polyline points="265.4,331.1 267.9,328.6 272.1,328.6"/>
<polyline points="299.9,327.3 301.6,335 308.2,340 314.9,343.3 313.2,349.9"/>
<polyline points="313.2,349.9 321.5,348.3 328.2,344.9 329.9,340"/>
<polyline points="334.9,342.6 335.9,353.9"/>
<polyline points="341.5,343.9 341.5,354.3"/>
<polyline points="346.5,346.6 346.5,354.3"/>
<polyline points="328.2,344.9 331.5,353.3 349.9,353.9"/>
<polyline points="275.9,358.3 283.3,359.9 289.9,363.3 287.2,369.9 279.9,373.3 275.9,373.9"/>
<polyline points="289.9,363.3 299.9,361.6 305.9,368.3"/>
<polyline points="313.2,349.9 311.6,359.9 305.9,368.3 298.2,374.9 299.9,383.2 306.6,389.9 311.6,393.2"/>
<polyline points="311.6,393.2 309.9,403.2 305.9,411.5 303.9,418.2"/>
<polyline points="311.6,393.2 321.5,396.6 329.9,403.2 333.2,413.2 331.5,421.5"/>
<polyline points="305.9,411.5 308.2,423.2 314.9,424.9 323.2,423.2 331.5,421.5"/>
<polyline points="323.2,423.2 328.2,431.5 336.5,436.5 339.9,444.8 346.5,443.8 344.9,434.9 338.2,429.9 333.2,421.5"/>
<polyline points="339.9,444.8 336.5,453.2 333.2,459.8 332.5,471.5"/>
<polyline points="333.2,459.8 339.9,461.5 345.9,465.8"/>
<polyline points="308.2,423.3 307.2,430 305.9,439.9 303.9,449.9 302.6,459.9 300.6,469.9 299.2,479.9 297.2,489.9 295.9,499.9 294.9,509.9 294.9,519.9 296.6,528.2 299.9,534.8 303.9,538.2"/>
<polyline points="444.5,276.7 455.8,276.7"/>
<polyline points="435,297.6 445,296.7 445,289.8 447.5,289.8 447.5,282 455.8,282 455.8,278"/>
<polyline points="455.8,278 465.5,285.2 480,297.6 485,302.3 488,303.2 492.5,300.8 496.2,298.3 507.5,289.8 515,291.4 537.5,302.3"/>
<polyline points="465.5,285.2 461.2,285.2 463.8,311.7 464.2,314.8 453.8,315.1 448.8,314.5 447,317 441.2,311.4 436.2,313.2"/>
<polyline points="488,303.2 488,311.7 486.2,314.8 480,316.3 478,316.7 472.5,317.9 467.5,322 463.8,330.4"/>
<polyline points="515,291.4 516.2,297.6 516.2,311.7 511.5,320.4"/>
<polyline points="478,316.7 483,324.1 486.5,326.6 487.5,321 495,322.6 500,323.2 507.5,322 511.5,320.4 513.8,323.2 512.5,327.3 516.2,331.9 512.5,336.6 515,339.7 525,335.1 533.8,328.8"/>
<polyline points="515,339.7 513.8,347.5 517.5,356.3 523.8,352.2 532.5,350 540,347.5 546,347.2 552.5,351.3 555,351.6"/>
<polyline points="538.8,336 546,347.2"/>
<polyline points="502,355.9 510.5,356.3 517.5,357.5 518,356.3"/>
<polyline points="505.5,375.2 507.5,370.6 513.8,369.1 513.8,376.7 509.5,377.6 508,380.6"/>
<polyline points="517.5,357.5 522,364.5 518,369.7 517,375.2 513.8,376.7"/>
<polyline points="509.5,381.2 518.8,380.9 520,385.8 526.2,385.8 528.8,384.2 532,385.8 532.5,396.4 537.5,396.4 537.5,401.8"/>
<polyline points="537.5,401.8 532.5,402.4 532.5,412.1 536,416.4 540.5,417"/>
<polyline points="537.5,396.4 541.2,397.9 545,399.4 548.8,401.2 550,403.6 552,400 548.8,396.4 548.8,390.9 554.2,387.9"/>
<polyline points="554.2,387.9 551.2,382.7"/>
<polyline points="551.2,376.7 550,371.2 552,367.3"/>
<polyline points="550,371.2 553.8,370.3"/>
<polyline points="550.8,376.4 553.8,373"/>
<polyline points="560,391.2 561.2,399.4 559.8,403.9 553,408.5 553.5,410.6 559.8,413.6 563.8,410 567.2,414.6 565,414.6"/>
<polyline points="563.8,392.4 564,397.9 567.2,407 565.5,413"/>
<polyline points="540.5,417 545,417.6 549.8,411.2 553.5,410.6"/>
<polyline points="540.5,417 542.5,420.6 546.8,425.2 550.8,430.3 555.8,430.9 558.8,427.6 560,423 559.2,420 560,416.1 559.8,413.6"/>
<polyline points="555.8,430.9 557.5,435.8 557.5,441.5 559.8,444.6"/>
<polyline points="527.5,429.7 527.5,438.2 527.5,449.4"/>
<polyline points="527.5,429.7 530,429.7 530,418.5 536,416.4"/>
<polyline points="507,415.5 512.5,415.8 523.8,416.1 530,417.6 536,416.4"/>
<polyline points="580,368.2 580,351 582.5,350 590,347.5 597.5,338.2 595,338.2 587.5,335.1 585,329.8 584.5,327.9"/>
<polyline points="583.5,324.1 585.5,324.8"/>
<polyline points="568.8,318.5 572.2,316.7 577.5,317.9 583.5,324.1"/>
<polyline points="435.5,321 443,321 440,324.1 435.8,324.8"/>
<polyline points="448.8,324.5 443.2,323.8 440,328.8"/>
<polyline points="448.8,324.5 451.2,325.7 457.5,331.3 456.8,339.4 458.8,349.4"/>
<polyline points="444.2,335.1 450.5,331.9 451.8,336.6 448.8,341.6"/>
<polyline points="451.8,336.6 456.8,339.4"/>
<polyline points="463.8,330.4 470.5,333.5 470.8,328.8 479.8,328.8 479.5,331.3 481.5,343.8"/>
<polyline points="479.8,328.8 483,324.1"/>
<polyline points="479.5,331.3 481.5,335.1 481.5,343.8"/>
<polyline points="486.5,326.6 484.2,335.1 484.2,343.2"/>
<polyline points="830,370.9 830,390.6"/>
<polyline points="549.8,125.5 552.5,130.8 550,133.8 552.5,138.4 551.8,141.8 553.8,144.1 556.2,149 552,155.5 547,158.1"/>
<polyline points="529,125.5 522.5,127.8 518.8,131.6 516.2,136.5 513.8,140.3 512,144.5 508,146.7 508,152.4 508.8,156.2 508,159.3 506.2,163.8 505.5,164.2"/>
<polyline points="529,125.5 536.8,129.7 536.2,133.5 537.5,137.3 538,138"/>
<polyline points="529,125.5 541.8,125.9 542.5,122.4 547.5,121.7 549.8,125.5 554.5,122.8"/>
<polyline points="548,161.9 546.2,167.6 546.8,170.3 548,174.5 554.5,176.8 555,180.9 558.8,185.1 556.2,189.7 562.5,189.3 566.2,196.1 572.5,198.4 577.5,199.5 577,205.6 573.2,208.7"/>
<polyline points="598.8,211.3 595,205.6 594.2,199.9 598.8,196.1 605,192.3 613.8,194.2 622.5,194.2 631.2,194.2 630,184.7 640,180.9 650,177.9 655,182.1 661.2,182.8 668.8,182.1 671.2,185.5 677.5,194.2 685,194.2 691.2,199.5 695.8,201.1"/>
<polyline points="695.8,201.1 692.5,209.4 685,208.7 683.8,215.1 678,228 665,225 661.2,226.5 655,227.6 654,235.2 650.8,235.2 647.5,232.2 643.8,231.4 642.5,225 632.5,222.7 623.8,215.1 617.5,217 617.5,231.1"/>
<polyline points="617.5,231.1 620,228.8 623.8,225.8 627.5,227.6 632.2,231.4 638.8,239.8 643.8,243.6 643.8,245.9"/>
<polyline points="589.5,237.1 592.5,240.2 597.5,237.9 600,242.5"/>
<polyline points="589.5,237.1 588,244 591.2,250.9 591.2,255.5 592.5,260.2 597,264 597.5,269.6"/>
<polyline points="612.2,246.3 616,243.6 620.5,242.8 625.8,245.5 630.5,248.9 629,260.2 631.8,265.2 629.8,270.2 633.8,271.4 635.5,278.3 631.5,284.5"/>
<polyline points="633.8,271.4 643.2,269.9 643.5,266.8 650.8,263.6 652.5,258.7 655.5,255.5 656.5,249.6 664.8,246.6"/>
<polyline points="672,252.4 663.8,260.8 664,266.5 660,272.1 653.8,275.8 651.2,279.5 653,282.7 655,287 649.5,287.3 648,289.2"/>
<polyline points="581.5,229.9 586.2,231.8 586.8,235.2 589.5,237.1"/>
<polyline points="588,244 583.5,246.6 577.5,248.2 572.5,247.8 569.2,248.2 568,250.9 567.5,251.2"/>
<polyline points="542.5,233 543.5,229.5 547.5,228.4"/>
<polyline points="564.8,271.4 567.8,272.1 571.2,269.6 570,264.9 575,262.7 578.5,263.6 582.5,266.1 589.2,272.1 593.8,272.4 596.8,274.2 598.5,274.2"/>
<polyline points="584.5,312 585.5,308.9 590.5,308.9 595,310.1 600,305.1 607.5,303.9 615,300.8 616.8,294.5 615.5,292.3 609,291.7 606.5,287.7"/>
<polyline points="607.5,303.9 610.2,311.4"/>
<polyline points="575,262.7 574.5,259 580,255.8 580.5,249.3 583.5,246.6"/>
<polyline points="574.5,259 569.5,262.4 566.5,261.1 566.2,264.9 565,270.8"/>
<polyline points="615.5,292.3 617,288.3 618.5,285.5"/>
<polyline points="455.5,229.2 461,228.8 460.2,236 458.8,241.7 459,246.6"/>
<polyline points="473,223.1 479.2,225.4 485.5,226.9"/>
<polyline points="536.2,182.8 536.5,188.1 537.5,195 534.2,201.4"/>
<polyline points="530,179 534.5,181.3 536.2,182.8 541.2,182.1 544,176.4 548,174.5"/>
<polyline points="530,175.2 537.5,174.1 544,176.4"/>
<polyline points="538.5,168 542.5,168.4 546.2,169.2"/>
<polyline points="536.5,191.9 546.2,192.3 554,192.7 556.2,189.7"/>
<polyline points="533,204.1 539.8,206.8 544,204.5 548,215.1 551.8,216.3"/>
<polyline points="544,204.5 547.5,204.5 552.5,211.3 548,215.1"/>
<polyline points="534.2,220.1 541.2,222 546.2,220.4 549,222"/>
<polyline points="577.5,222.7 585,226.1 593.8,229.2 598.8,229.2"/>
<polyline points="586.2,231.8 590,231.1 593.8,229.2"/>
<polyline points="590,231.1 593.8,235.2 592.5,240.2"/>
<polyline points="695.8,201.1 701.2,198.8 707.5,195.4 715,198 721.2,198.8 723.8,190.4 732.5,192.7 733.8,196.1 740,196.5 746.2,198.8 752.5,201.1 760,199.5 769.2,198.8"/>
<polyline points="697,201.1 698.8,204.5 703.8,207.5 705,216.3 711.2,217.4 716,220.1 718.5,225.8 727.5,226.1 732.5,227.6 740,229.9 746.2,226.9 752.5,226.1 757.2,222 756,219.3 761.8,217.8 767.5,214.4 773.8,210.2 777,210.6 772,206.8 766.2,206 769.2,198.8"/>
<polyline points="769.2,198.8 772.5,199.5 777,196.1 778.8,188.1 780,185.5 786.2,184.7 791.5,186.6 796.2,197.3 797.5,199.5 804.2,202.2 805,206.8 810,205.2 814.2,204.1 812.5,208.3 810,217 805.8,217.4 805.5,222.7 804.2,227.3"/>
<polyline points="804.2,227.3 802.2,225 797.5,228.4 794.8,229.2 790,234.1 788.2,236"/>
<polyline points="792.8,244.7 798.5,241.3"/>
<polyline points="695.8,201.1 691.8,204.1 691.2,209 685,208.7 683.2,215.1 678.2,217 679.5,223.9 678,228 672.5,232.2 667.5,234.5 662,237.5 662,241.7 664.8,246.6"/>
<polyline points="664.8,246.6 672,252.4 675,256.2 674.2,261.5 675.5,265.5 680,268.9 681.2,268.3 686.2,272.1 692.5,275.8 697.8,276.1 699.8,278 701.8,275.2 706.5,276.4 707.8,279.2 712.5,271.8 717.5,271.4 720.8,275.2"/>
<polyline points="680,268.9 677.8,273.3 681.2,275.8 685.8,278 690,279.9 695,280.5 697.8,280.8 697.8,276.1"/>
<polyline points="699.8,278 699.8,279.5 707.8,279.2"/>
<polyline points="697.8,280.8 700,282 702,284.2 707.5,284.5 708.2,286.7 705.5,289.2 706.5,291.4 708.2,290.8 709,296.1"/>
<polyline points="697.8,280.8 698.2,285.2 699.2,287.3 699.8,291.4 700,295.1"/>
<polyline points="720.8,275.2 715.5,280.2 714,285.2 711,288.3 710.5,293.6 709,296.1"/>
<polyline points="720.8,275.2 724.2,277.4 724,282.7 721.5,286.7 725,291.1 725.5,294.2 728,296.1 730.5,297"/>
<polyline points="730.5,297 732,293.3 733.8,292.3 737.5,292.3 741,290.8 744.2,292 745,295.1 747.5,296.1"/>
<polyline points="730.5,297 727.8,299.5 722.5,301.7 721.8,305.4 724,311.7 723,315.7 725.5,322 726.5,326.3 724.5,331"/>
<polyline points="727.8,299.5 728.8,302.3 730.5,307.3 732.8,306.4 735.8,305.7 739.2,308.9 739.5,312.3 741.5,314.8 741.2,318.2"/>
<polyline points="733,293.3 735,297.9 738.8,299.2 737.5,302.9 740.5,305.1 743.8,310.1 745.8,313.5 746.5,317.3"/>
<polyline points="734.8,326.6 733.8,320.7 735,318.5 741.2,318.2 746.5,317.3 746.2,324.1 742.5,326.6 742,328.8 738.8,330.7"/>
<polyline points="727.8,342.8 730,345 732.8,343.8"/>
<polyline points="751.5,356.9 753.8,360.3 757.5,358.8 761.8,359.1 764.5,356.9 766.2,352.5 766.5,350 771.2,350"/>
<polyline points="789.8,390.9 790.2,391.8"/>
<g stroke-width="0.8"><polyline points="131.8,165.4 137.7,170.7 142.5,177.5 146.4,184.4 149.4,190.2 154.3,196.1 160.1,202"/></g>
</g>
<g id="bubbles" fill="#1a5088" fill-opacity="0.82" stroke="#ffffff" stroke-width="1.6" stroke-opacity="0.88">
<circle cx="748.2" cy="256.6" r="98.4"/>
<circle cx="677.2" cy="292.6" r="36.5"/>
<circle cx="823.1" cy="249.3" r="28.8"/>
<circle cx="798.1" cy="249.3" r="25.8"/>
<circle cx="228.7" cy="234.4" r="27.8"/>
<circle cx="649" cy="156.5" r="26.8"/>
<circle cx="566.6" cy="238.4" r="17.4"/>
<circle cx="356.5" cy="394.2" r="17.5"/>
<circle cx="612.5" cy="259.9" r="16.2"/>
<circle cx="504.4" cy="192.2" r="14.4"/>
<circle cx="509.4" cy="228.1" r="13.6"/>
<circle cx="780.8" cy="289.2" r="13.9"/>
<circle cx="749.9" cy="320" r="13.7"/>
<circle cx="222.3" cy="287.8" r="12"/>
<circle cx="752.6" cy="378.9" r="11.5"/>
<circle cx="256" cy="183" r="10.4"/>
<circle cx="555" cy="278" r="9.5"/>
<circle cx="590.8" cy="286.6" r="9.2"/>
<circle cx="469.6" cy="234.8" r="9.1"/>
<circle cx="483.8" cy="213.1" r="9"/>
<circle cx="735.5" cy="349.2" r="8.2"/>
<circle cx="704.1" cy="288.2" r="7.5"/>
<circle cx="652.2" cy="267" r="7.2"/>
<circle cx="555.8" cy="204.7" r="7.2"/>
<circle cx="525.8" cy="191.9" r="6.9"/>
<circle cx="811.9" cy="446.5" r="6.9"/>
<circle cx="539.9" cy="449.4" r="6.8"/>
<circle cx="509.7" cy="207.5" r="6.7"/>
<circle cx="474.1" cy="186.5" r="6.6"/>
<circle cx="318.5" cy="484.9" r="6.5"/>
<circle cx="730.8" cy="315.7" r="6.5"/>
<circle cx="481.8" cy="273.6" r="6.2"/>
<circle cx="516.6" cy="154.4" r="5.7"/>
<circle cx="527.2" cy="203.7" r="5.7"/>
<circle cx="543.7" cy="148.7" r="5.6"/>
<circle cx="488.7" cy="195.7" r="5.6"/>
<circle cx="645.7" cy="205.6" r="5.5"/>
<circle cx="491.5" cy="191.1" r="5.2"/>
<circle cx="516.6" cy="200" r="5.2"/>
<circle cx="614.1" cy="287.2" r="4.9"/>
<circle cx="618.1" cy="295.2" r="4.9"/>
<circle cx="587.1" cy="257.9" r="4.7"/>
<circle cx="783.2" cy="325.3" r="4.5"/>
<circle cx="547.9" cy="185.2" r="4.2"/>
<circle cx="493.2" cy="199.9" r="3.7"/>
<circle cx="457.2" cy="236.8" r="3.5"/>
<circle cx="294.9" cy="348.9" r="3.5"/>
<circle cx="289.2" cy="389.2" r="3.5"/>
<circle cx="540.4" cy="214" r="3.4"/>
<circle cx="797.5" cy="233.3" r="2.8"/>
<circle cx="460" cy="262.5" r="3.1"/>
<circle cx="530.3" cy="220.2" r="3"/>
<circle cx="298.9" cy="479.9" r="2.9"/>
<circle cx="498.2" cy="211" r="2.8"/>
<circle cx="536.7" cy="240.7" r="2.7"/>
<circle cx="521" cy="279.8" r="2.5"/>
<circle cx="639.4" cy="230.3" r="2.5"/>
<circle cx="719.8" cy="302.4" r="2.4"/>
<circle cx="597.1" cy="270.5" r="2.4"/>
<circle cx="605.8" cy="283.3" r="2.2"/>
<circle cx="603.2" cy="280" r="1.9"/>
<circle cx="500.6" cy="155.6" r="1.9"/>
<circle cx="526.5" cy="209.7" r="1.9"/>
<circle cx="515.3" cy="213.3" r="1.9"/>
<circle cx="522" cy="221.6" r="1.9"/>
<circle cx="499.2" cy="333.9" r="1.9"/>
<circle cx="572.6" cy="361.6" r="1.9"/>
<circle cx="909.8" cy="489.6" r="1.9"/>
<circle cx="549.1" cy="210.7" r="1.9"/>
<circle cx="541.6" cy="225.5" r="1.9"/>
<circle cx="474.9" cy="337.2" r="1.9"/>
<circle cx="522.7" cy="395.5" r="1.9"/>
<circle cx="532.4" cy="229.5" r="1.9"/>
<circle cx="596.8" cy="234.4" r="1.9"/>
<circle cx="738.2" cy="357.2" r="1.9"/>
<circle cx="280.6" cy="365.9" r="1.9"/>
<circle cx="251.5" cy="313.2" r="1.9"/>
<circle cx="517.3" cy="217.6" r="1.9"/>
<circle cx="565.6" cy="263.9" r="1.9"/>
<circle cx="570.6" cy="264" r="1.9"/>
<circle cx="565.3" cy="380.6" r="1.6" fill="none" stroke-width="1.1"/>
<circle cx="334.9" cy="433.2" r="1.9"/>
<circle cx="338.2" cy="463.2" r="1.5" fill="none" stroke-width="1.1"/>
<circle cx="277.5" cy="295.9" r="1.9"/>
</g>
</svg>
<div id="year">2023</div>
<div id="title"><b>Total production of crude steel</b> (thousand tonnes)</div>
<div id="credit">© 2024 World Steel Association</div>
</div></body></html>
